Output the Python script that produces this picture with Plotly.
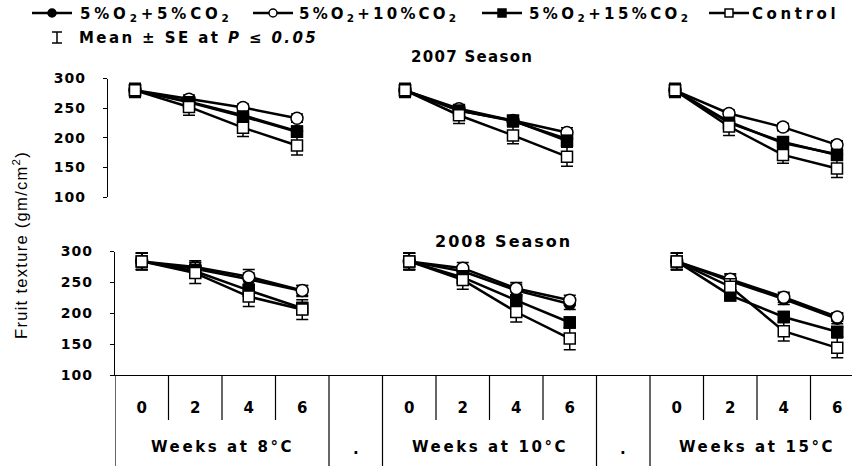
import plotly.graph_objects as go

W, H = 852, 466

# ---- data -------------------------------------------------------------
weeks = [0, 2, 4, 6]
temperatures = ["8°C", "10°C", "15°C"]
treatments = [
    "5%O<sub>2</sub>+5%CO<sub>2</sub>",
    "5%O<sub>2</sub>+10%CO<sub>2</sub>",
    "5%O<sub>2</sub>+15%CO<sub>2</sub>",
    "Control",
]
y_ticks = [100, 150, 200, 250, 300]

# fruit texture (gm/cm2); 8°C weeks 0-6 | 10°C weeks 0-6 | 15°C weeks 0-6
tex2007_co2_5 = [280, 261, 238, 211, 280, 246, 228, 198, 280, 227, 191, 172]
tex2007_co2_10 = [280, 265, 251, 233, 280, 249, 229, 209, 280, 241, 218, 188]
tex2007_co2_15 = [280, 260, 236, 210, 280, 246, 229, 195, 280, 225, 193, 171]
tex2007_control = [280, 252, 217, 187, 280, 238, 204, 168, 280, 219, 171, 148]

tex2008_co2_5 = [284, 272, 255, 236, 284, 268, 237, 215, 284, 252, 223, 191]
tex2008_co2_10 = [284, 275, 259, 237, 284, 273, 240, 221, 284, 255, 226, 194]
tex2008_co2_15 = [284, 268, 237, 208, 284, 258, 221, 185, 284, 229, 194, 170]
tex2008_control = [284, 265, 227, 206, 284, 254, 202, 159, 284, 243, 171, 144]

# standard errors
se2007_co2_5 = [10, 8, 8, 9, 10, 7, 8, 9, 10, 8, 9, 8]
se2007_co2_10 = [10, 7, 6, 7, 10, 7, 7, 8, 10, 6, 6, 7]
se2007_co2_15 = [10, 8, 8, 9, 10, 8, 8, 9, 10, 8, 8, 9]
se2007_control = [12, 14, 15, 16, 12, 14, 14, 16, 12, 15, 14, 15]

se2008_co2_5 = [13, 10, 10, 9, 13, 9, 10, 9, 13, 10, 9, 8]
se2008_co2_10 = [13, 10, 12, 8, 13, 9, 10, 8, 13, 9, 8, 7]
se2008_co2_15 = [13, 11, 10, 10, 13, 10, 9, 9, 13, 9, 9, 8]
se2008_control = [14, 17, 16, 16, 14, 15, 16, 18, 14, 13, 16, 16]

seasons = [
    ("2007 Season", [tex2007_co2_5, tex2007_co2_10, tex2007_co2_15, tex2007_control],
     [se2007_co2_5, se2007_co2_10, se2007_co2_15, se2007_control]),
    ("2008 Season", [tex2008_co2_5, tex2008_co2_10, tex2008_co2_15, tex2008_control],
     [se2008_co2_5, se2008_co2_10, se2008_co2_15, se2008_control]),
]

# ---- styling ----------------------------------------------------------
FONT = "DejaVu Sans"
BLACK = "black"
marker_styles = [
    dict(symbol="circle", size=11, color=BLACK, line=dict(color=BLACK, width=1.5)),
    dict(symbol="circle", size=12, color="white", line=dict(color=BLACK, width=1.5)),
    dict(symbol="square", size=11, color=BLACK, line=dict(color=BLACK, width=1.5)),
    dict(symbol="square", size=11, color="white", line=dict(color=BLACK, width=1.5)),
]


def spaced(text, px):
    return f'<span style="letter-spacing:{px}px">{text}</span>'


def bold_font(size):
    return dict(family=FONT, size=size, color=BLACK, weight="bold")


# slot of each week on the categorical strip: 4 weeks, a spacer, 4 weeks ...
n_weeks = len(weeks)
group_start = [g * (n_weeks + 1) for g in range(len(temperatures))]
week_slots = [start + k for start in group_start for k in range(n_weeks)]
week_labels = [str(wk) for _ in group_start for wk in weeks]

fig = go.Figure()

panel_axes = [("x", "y"), ("x2", "y2")]
for (season, series, errors), (xa, ya) in zip(seasons, panel_axes):
    for t_idx, (vals, ses) in enumerate(zip(series, errors)):
        for g, start in enumerate(group_start):
            xs = [start + k for k in range(n_weeks)]
            ys = vals[g * n_weeks:(g + 1) * n_weeks]
            es = ses[g * n_weeks:(g + 1) * n_weeks]
            fig.add_trace(go.Scatter(
                x=xs, y=ys, xaxis=xa, yaxis=ya,
                mode="lines+markers",
                line=dict(color=BLACK, width=2.5),
                marker=marker_styles[t_idx],
                error_y=dict(type="data", array=es, visible=True,
                             color=BLACK, thickness=1.5, width=6),
                showlegend=False, hoverinfo="skip", cliponaxis=False,
            ))

# ---- legend (drawn in pixel space on an overlay axis) ---------------------
legend_sym_x = [32, 253, 482, 709]
legend_text_x = [78, 297, 527, 750]
legend_spacing = [3.8, 3.2, 3.4, 3.6]
legend_y = 13
for i, (sx, tx) in enumerate(zip(legend_sym_x, legend_text_x)):
    fig.add_trace(go.Scatter(
        x=[sx, sx + 40], y=[legend_y, legend_y], xaxis="x3", yaxis="y3",
        mode="lines", line=dict(color=BLACK, width=2.5),
        showlegend=False, hoverinfo="skip"))
    fig.add_trace(go.Scatter(
        x=[sx + 20], y=[legend_y], xaxis="x3", yaxis="y3",
        mode="markers", marker={**marker_styles[i], "size": 8},
        showlegend=False, hoverinfo="skip"))

shapes = []
annotations = []

for i, tx in enumerate(legend_text_x):
    annotations.append(dict(
        x=tx, y=legend_y + 1, xref="x3", yref="y3", xanchor="left", yanchor="middle",
        text=spaced(treatments[i], legend_spacing[i]), showarrow=False, font=bold_font(15)))

# error-bar key
for seg in [(57, 32, 57, 43), (52, 32, 62, 32), (52, 43, 62, 43)]:
    shapes.append(dict(type="line", xref="x3", yref="y3",
                       x0=seg[0], y0=seg[1], x1=seg[2], y1=seg[3],
                       line=dict(color=BLACK, width=1.5)))
annotations.append(dict(
    x=77, y=38, xref="x3", yref="y3", xanchor="left", yanchor="middle",
    text=spaced("Mean ± SE at <i>P ≤ 0.05</i>", 2.4), showarrow=False, font=bold_font(15)))

# season titles
annotations.append(dict(x=472, y=57, xref="x3", yref="y3", yanchor="middle",
                        text=spaced("2007 Season", 1.3), showarrow=False, font=bold_font(15)))
annotations.append(dict(x=503, y=241, xref="x3", yref="y3", yanchor="middle",
                        text=spaced("2008 Season", 2), showarrow=False, font=bold_font(16)))

# y-axis title
annotations.append(dict(x=20, y=245, xref="x3", yref="y3", textangle=-90,
                        text=spaced("Fruit texture (gm/cm<sup>2</sup>)", 1.3), showarrow=False,
                        font=dict(family="Liberation Sans", size=16.5, color=BLACK)))

# ---- category strip under the lower panel ---------------------------------
TABLE_TOP, TICK_BOTTOM, TABLE_BOTTOM = 375, 420, H + 2
full_lines = set()
for start in group_start:
    full_lines.add(start - 0.5)
    full_lines.add(start + n_weeks - 0.5)
last = group_start[-1] + n_weeks - 0.5
for b10 in range(-5, int(last * 10) + 1, 10):
    b = b10 / 10
    y1 = TABLE_BOTTOM if b in full_lines else TICK_BOTTOM
    shapes.append(dict(type="line", xref="x2", yref="y3", x0=b, x1=b,
                       y0=TABLE_TOP, y1=y1, line=dict(color=BLACK, width=1.2)))

for g, start in enumerate(group_start):
    annotations.append(dict(x=start + (n_weeks - 1) / 2, y=447, xref="x2", yref="y3",
                            text=spaced(f"Weeks at {temperatures[g]}", 2.6), showarrow=False,
                            font=bold_font(15)))
    if g < len(group_start) - 1:
        annotations.append(dict(x=start + n_weeks, y=449, xref="x2", yref="y3",
                                text="<b>.</b>", showarrow=False, font=bold_font(15)))

# ---- axes -----------------------------------------------------------------
def px_x(p):
    return p / W


def px_y(p):
    return (H - p) / H


top_left, bot_left = 108, 115
top_w, bot_w = 54.0, 53.5

yaxis_common = dict(
    range=[100, 300], tickvals=y_ticks, ticktext=[spaced(str(v), 1) for v in y_ticks],
    showline=True, linecolor=BLACK, linewidth=1.2, ticks="outside", ticklen=4,
    tickwidth=1.2, tickcolor=BLACK, showgrid=False, zeroline=False,
    tickfont=bold_font(14), ticklabelstandoff=14, fixedrange=True, automargin=False,
)

hidden = dict(visible=False, showticklabels=False, automargin=False, tickvals=[], ticks="")

fig.update_layout(
    width=W, height=H,
    margin=dict(l=0, r=0, t=0, b=0, pad=0, autoexpand=False),
    paper_bgcolor="white", plot_bgcolor="rgba(0,0,0,0)",
    showlegend=False,
    xaxis=dict(domain=[px_x(top_left), 1], range=[-0.5, -0.5 + (W - top_left) / top_w],
               anchor="y", **hidden),
    yaxis=dict(domain=[px_y(197), px_y(78.5)], anchor="x", **yaxis_common),
    xaxis2=dict(domain=[px_x(bot_left), 1], range=[-0.5, -0.5 + (W - bot_left) / bot_w],
                showline=True, linecolor=BLACK, linewidth=1.2,
                tickvals=week_slots, ticktext=week_labels, ticks="",
                tickfont=bold_font(15), ticklabelstandoff=19,
                showgrid=False, zeroline=False, anchor="y2", automargin=False),
    yaxis2=dict(domain=[px_y(375), px_y(251.5)], anchor="x2", **yaxis_common),
    xaxis3=dict(domain=[0, 1], range=[0, W], anchor="y3", **hidden),
    yaxis3=dict(domain=[0, 1], range=[H, 0], anchor="x3", **hidden),
    shapes=shapes,
    annotations=annotations,
)

fig.write_html("out.html")
